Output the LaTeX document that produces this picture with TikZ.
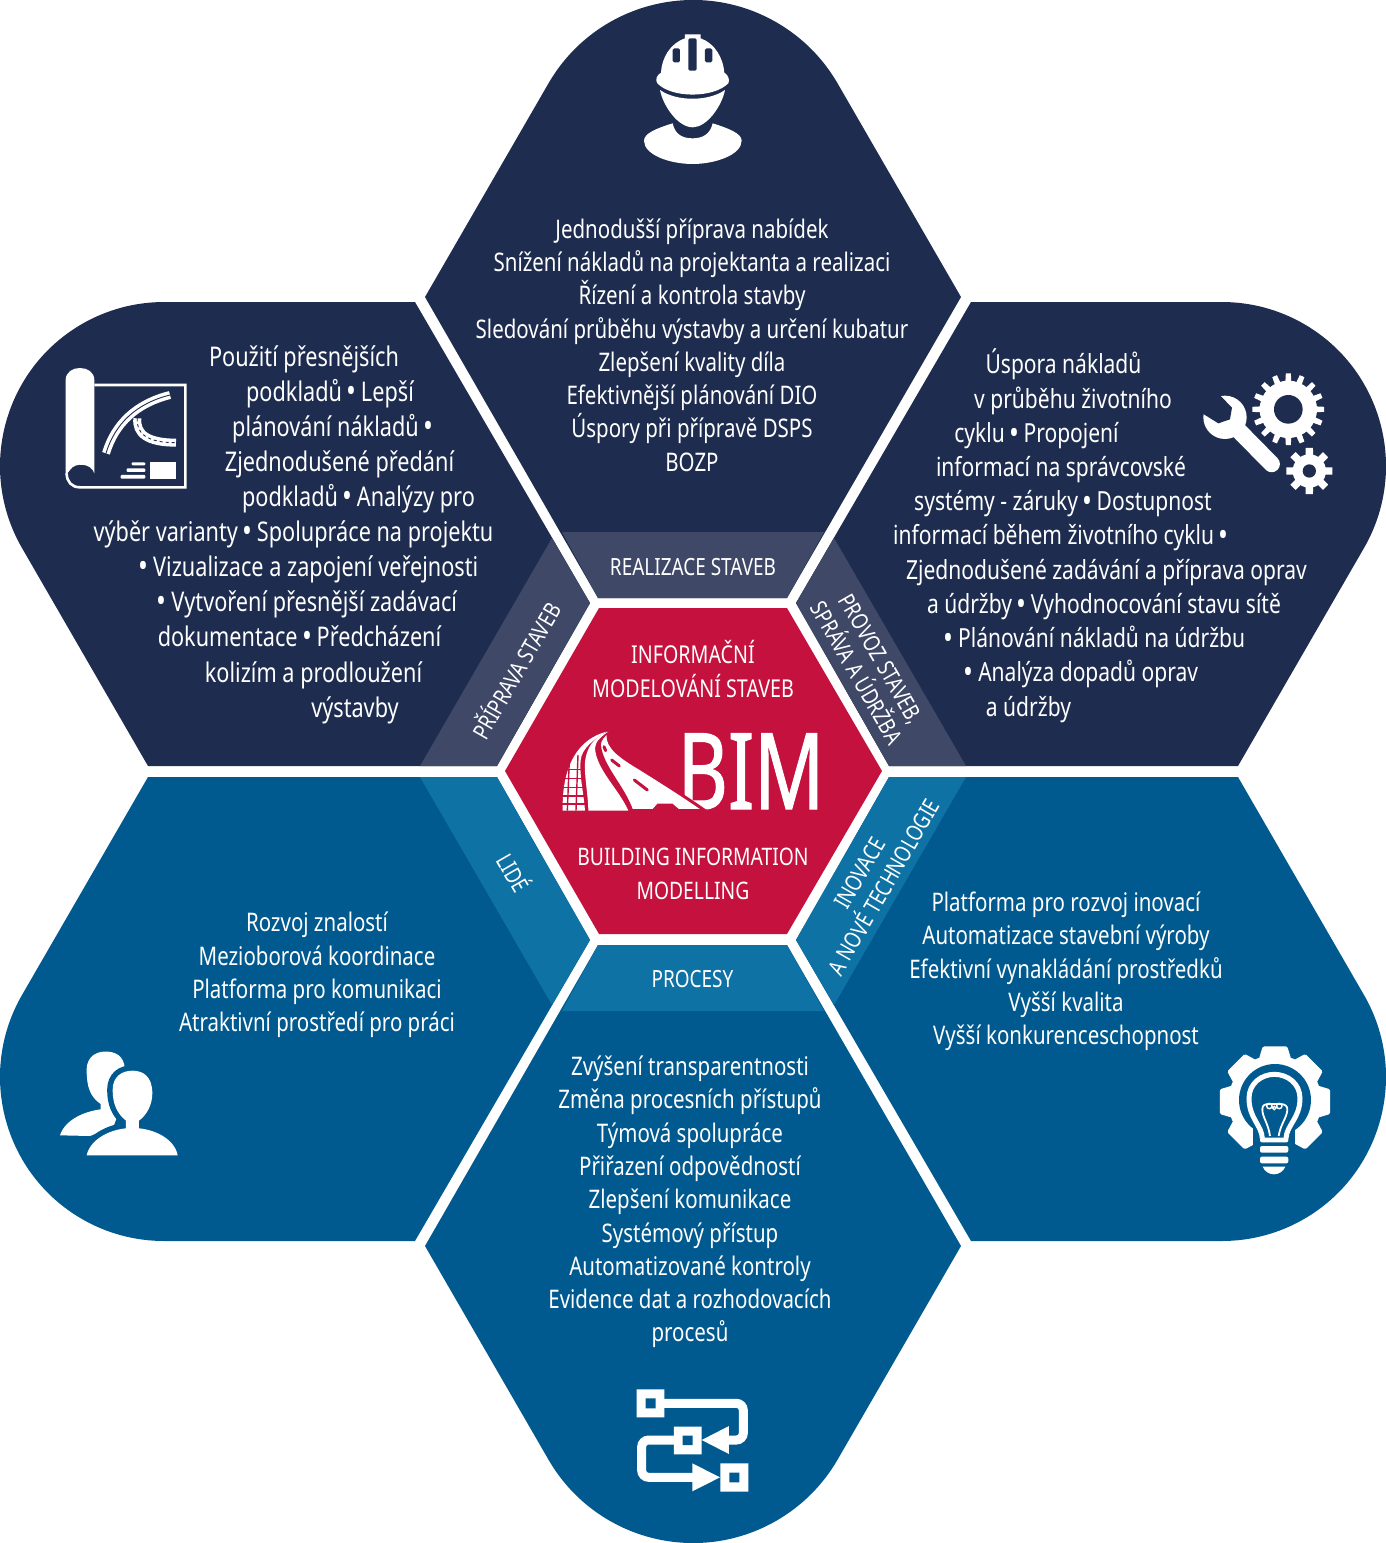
\documentclass[tikz,border=0pt]{standalone}
\usepackage{fontspec}
\setmainfont{Noto Sans}[FakeStretch=0.8]
\newfontfamily\bimfont{Noto Sans}[FakeStretch=0.73,FakeBold=1]
\definecolor{navy}{HTML}{1E2D4F}
\definecolor{navyband}{HTML}{3F4866}
\definecolor{teal}{HTML}{005A8F}
\definecolor{tealband}{HTML}{0E72A5}
\definecolor{crimson}{HTML}{C4113D}
\newcommand{\blt}{\raisebox{-1.6pt}{\fontsize{33}{33}\selectfont •}}
\newcommand{\sep}{\,\blt\,}
\tikzset{
  navyshape/.style={fill=navy},
  tealshape/.style={fill=teal},
  navystrip/.style={fill=navyband},
  tealstrip/.style={fill=tealband},
  txtblock/.style={text=white,inner sep=0pt,align=center,font=\fontsize{25.6}{33.3}\selectfont},
  txtline/.style={text=white,inner sep=0pt,text height=19pt,text depth=6pt},
  leftline/.style={txtline,font=\fontsize{27.1}{34}\selectfont},
  rightline/.style={txtline,font=\fontsize{26.3}{34}\selectfont},
  caption/.style={text=white,inner sep=0pt,align=center,font=\fontsize{23.7}{28}\selectfont},
  tiltcaption/.style={text=white,inner sep=0pt,align=center,font=\fontsize{23}{28}\selectfont},
  gearedge/.style={},
}
\newcommand{\gearteeth}[6]{%
  \fill[white] (#1,#2) circle[radius=#4pt];
  \foreach \g in {1,...,#5}{
    \pgfmathsetmacro{\ga}{360/#5*\g}
    \path[fill=white,gearedge] ({#1+#3*cos(\ga-#6)},{#2+#3*sin(\ga-#6)}) -- ({#1+#3*cos(\ga+#6)},{#2+#3*sin(\ga+#6)}) -- ({#1+(#4-2)*cos(\ga+#6*1.5)},{#2+(#4-2)*sin(\ga+#6*1.5)}) -- ({#1+(#4-2)*cos(\ga-#6*1.5)},{#2+(#4-2)*sin(\ga-#6*1.5)}) -- cycle;
  }}
\begin{document}
\begin{tikzpicture}[x=1pt,y=-1pt]
\useasboundingbox (0,0) rectangle (1386,1543);
% six outer shapes
\path[navyshape] (598,598) -- (425,297) -- (548.4,83.5) arc[start angle=150,end angle=30,radius=167pt] -- (961,297) -- (787,598) -- cycle;
\path[tealshape] (598,945) -- (425,1246) -- (548.4,1459.5) arc[start angle=210,end angle=330,radius=167pt] -- (961,1246) -- (787,945) -- cycle;
\path[navyshape] (415,302) -- (590,603) -- (497,766) -- (148,766) -- (22,548) arc[start angle=210,end angle=90,radius=164pt] -- cycle;
\path[navyshape] (971,302) -- (796,603) -- (889,766) -- (1238,766) -- (1364,548) arc[start angle=-30,end angle=90,radius=164pt] -- cycle;
\path[tealshape] (415,1241) -- (590,940) -- (497,777) -- (148,777) -- (22,995) arc[start angle=150,end angle=270,radius=164pt] -- cycle;
\path[tealshape] (971,1241) -- (796,940) -- (889,777) -- (1238,777) -- (1364,995) arc[start angle=30,end angle=-90,radius=164pt] -- cycle;
% lighter strips
\path[navystrip] (598,598) -- (787,598) -- (824,532) -- (562,532) -- cycle;
\path[navystrip] (590,603) -- (497,766) -- (420,766) -- (552,538) -- cycle;
\path[navystrip] (796,603) -- (889,766) -- (966,766) -- (834,538) -- cycle;
\path[tealstrip] (598,945) -- (787,945) -- (824,1011) -- (562,1011) -- cycle;
\path[tealstrip] (590,940) -- (497,777) -- (420,777) -- (552,1005) -- cycle;
\path[tealstrip] (796,940) -- (889,777) -- (966,777) -- (834,1005) -- cycle;
% centre hexagon
\path[fill=crimson] (505,771) -- (599,608) -- (787,608) -- (882,771) -- (787,934) -- (599,934) -- cycle;

% texts
\node[txtblock] (topblock) at (692,345) {Jednodušší příprava nabídek\\Snížení nákladů na projektanta a realizaci\\Řízení a kontrola stavby\\Sledování průběhu výstavby a určení kubatur\\Zlepšení kvality díla\\Efektivnější plánování DIO\\Úspory při přípravě DSPS\\BOZP};
\node[txtblock] (lowleftblock) at (317,975) {Rozvoj znalostí\\Mezioborová koordinace\\Platforma pro komunikaci\\Atraktivní prostředí pro práci};
\node[txtblock] (lowrightblock) at (1066,971.5) {Platforma pro rozvoj inovací\\Automatizace stavební výroby\\Efektivní vynakládání prostředků\\Vyšší kvalita\\Vyšší konkurenceschopnost};
\node[txtblock] (bottomblock) at (690,1202) {Zvýšení transparentnosti\\Změna procesních přístupů\\Týmová spolupráce\\Přiřazení odpovědností\\Zlepšení komunikace\\Systémový přístup\\Automatizované kontroly\\Evidence dat a rozhodovacích\\procesů};

\node[leftline] (l1) at (304,359.5) {Použití přesnějších};
\node[leftline] (l2) at (330,394.5) {podkladů\sep Lepší};
\node[leftline] (l3) at (335,429.5) {plánování nákladů\sep};
\node[leftline] (l4) at (339.5,464.5) {Zjednodušené předání};
\node[leftline] (l5) at (358.5,499.5) {podkladů\sep Analýzy pro};
\node[leftline] (l6) at (293.5,534.5) {výběr varianty\sep Spolupráce na projektu};
\node[leftline] (l7) at (308.5,569.5) {\blt\,Vizualizace a zapojení veřejnosti};
\node[leftline] (l8) at (307,604.5) {\blt\,Vytvoření přesnější zadávací};
\node[leftline] (l9) at (299.5,639.5) {dokumentace\sep Předcházení};
\node[leftline] (l10) at (313.5,675.5) {kolizím a prodloužení};
\node[leftline] (l11) at (355,710.5) {výstavby};

\node[rightline] (r1) at (1063.5,367) {Úspora nákladů};
\node[rightline] (r2) at (1073,402) {v průběhu životního};
\node[rightline] (r3) at (1036.5,436) {cyklu\sep Propojení};
\node[rightline] (r4) at (1061,470) {informací na správcovské};
\node[rightline] (r5) at (1063,504) {systémy - záruky\sep Dostupnost};
\node[rightline] (r6) at (1063,538) {informací během životního cyklu\sep};
\node[rightline] (r7) at (1106.5,573) {Zjednodušené zadávání a příprava oprav};
\node[rightline] (r8) at (1104,607) {a údržby\sep Vyhodnocování stavu sítě};
\node[rightline] (r9) at (1094.5,641) {\blt\,Plánování nákladů na údržbu};
\node[rightline] (r10) at (1081,675) {\blt\,Analýza dopadů oprav};
\node[rightline] (r11) at (1028.5,710) {a údržby};

% strip captions
\node[caption] (capA) at (693,567.5) {REALIZACE STAVEB};
\node[caption] (capB) at (692.5,979.5) {PROCESY};
\node[tiltcaption,rotate=60] (capC) at (515,670) {PŘÍPRAVA STAVEB};
\node[tiltcaption,rotate=-60] (capD) at (515,872) {LIDÉ};
\node[tiltcaption,rotate=-60] (capE) at (869,666) {PROVOZ STAVEB,\\SPRÁVA A ÚDRŽBA};
\node[tiltcaption,rotate=60] (capF) at (872,880) {INOVACE\\A NOVÉ TECHNOLOGIE};

% centre texts
\node[caption,font=\fontsize{24.6}{34}\selectfont] (capG) at (693,669) {INFORMAČNÍ\\MODELOVÁNÍ STAVEB};
\node[caption,font=\fontsize{24.1}{34}\selectfont] (capH) at (693,874) {BUILDING INFORMATION\\MODELLING};
\node[text=white,inner sep=0pt,anchor=base,font=\bimfont\fontsize{106}{106}\selectfont] (bimword) at (751,809) {BIM};

% road and rail logo
\begin{scope}[shift={(540,710)},scale=0.3333]
  \draw[fill=white,draw=crimson,line width=3pt] (205,65) .. controls (200,100) and (215,125) .. (300,175) .. controls (380,225) and (450,270) .. (495,302) -- (415,302) -- (395,285) -- (355,285) -- (340,302) -- (275,302) .. controls (250,230) and (185,170) .. (178,105) .. controls (178,90) and (190,75) .. (205,65) -- cycle;
  \fill[white] (205,65) .. controls (160,80) and (130,120) .. (135,185) .. controls (138,230) and (145,270) .. (145,302) -- (265,302) .. controls (235,235) and (170,180) .. (165,115) .. controls (165,95) and (185,78) .. (205,65) -- cycle;
  \fill[white] (200,65) .. controls (120,85) and (65,160) .. (68,302) -- (135,302) .. controls (130,240) and (118,200) .. (122,150) .. controls (125,115) and (165,85) .. (200,65) -- cycle;
  \foreach \ty in {178,205,232,258,282} \draw[crimson,line width=1.6pt] (60,\ty) -- (135,\ty);
  \draw[crimson,line width=1.4pt] (88,150) -- (82,302) (114,135) -- (108,302);
  \draw[crimson,line width=3pt,line cap=round] (192,110) -- (197,122) (215,150) -- (238,168) (283,210) -- (322,240);
\end{scope}

% worker icon
\begin{scope}[shift={(600,20)},scale=0.3333]
  \fill[white] (255,43) -- (302,43) -- (302,55) .. controls (345,70) and (370,115) .. (373,158) .. controls (385,165) and (390,180) .. (385,190) .. controls (340,235) and (215,235) .. (172,190) .. controls (165,180) and (170,165) .. (183,158) .. controls (185,115) and (210,70) .. (255,55) -- cycle;
  \fill[navy,rounded corners=1.5pt] (265,55) rectangle (290,152) (218,85) rectangle (240,127) (315,85) rectangle (337,127);
  \fill[white] (180,210) .. controls (230,245) and (325,245) .. (375,210) .. controls (365,260) and (320,322) .. (278,322) .. controls (235,322) and (190,260) .. (180,210) -- cycle;
  \fill[white] (218,310) .. controls (225,345) and (250,355) .. (278,355) .. controls (305,355) and (330,345) .. (338,310) .. controls (385,325) and (425,340) .. (425,362) .. controls (425,405) and (345,432) .. (278,432) .. controls (210,432) and (132,405) .. (132,362) .. controls (132,340) and (170,325) .. (218,310) -- cycle;
\end{scope}

% blueprint icon
\begin{scope}[shift={(0,290)},scale=0.3333]
  \draw[white,line width=2.6pt] (283,285) -- (556,285) -- (556,592) -- (240,592) .. controls (215,592) and (200,575) .. (200,550);
  \fill[white] (197,555) -- (197,270) .. controls (197,222) and (283,222) .. (283,270) -- (283,550) .. controls (275,520) and (225,515) .. (210,540) .. controls (205,548) and (200,552) .. (197,555) -- cycle;
  \draw[white,line width=8pt] (318,490) .. controls (345,400) and (410,340) .. (510,315);
  \draw[navy,line width=0.9pt] (318,490) .. controls (345,400) and (410,340) .. (510,315);
  \draw[white,line width=8pt] (412,385) .. controls (408,430) and (440,458) .. (528,458);
  \draw[navy,line width=0.9pt,dashed] (412,385) .. controls (408,430) and (440,458) .. (528,458);
  \fill[white] (450,517) rectangle (529,566);
  \fill[white,rounded corners=1pt] (395,517) rectangle (436,526) (380,535) rectangle (436,546) (362,555) rectangle (436,566);
\end{scope}

% tools icon
\begin{scope}[shift={(1150,340)},scale=0.3333]
  \gearteeth{415}{208}{108}{86}{16}{4}
  \fill[navy] (415,208) circle[radius=43pt];
  \gearteeth{478}{393}{70}{50}{8}{9}
  \fill[navy] (478,393) circle[radius=20pt];
  \fill[white] (225,232) circle[radius=65pt];
  \draw[white,line width=16.5pt,line cap=round] (240,245) -- (365,372);
  \fill[navy] (212,168) -- (246,203) -- (240,238) -- (205,250) -- (160,222) -- (110,170) -- (170,110) -- cycle;
\end{scope}

% process icon
\begin{scope}[shift={(580,1360)},scale=0.3333]
  \draw[white,line width=9pt,rounded corners=7pt] (250,130) -- (490,130) -- (490,240) -- (420,240);
  \draw[white,line width=9pt,rounded corners=7pt] (290,240) -- (185,240) -- (185,352) -- (340,352);
  \fill[white] (365,240) -- (447,198) -- (447,282) -- cycle;
  \fill[white] (420,352) -- (337,310) -- (337,394) -- cycle;
  \fill[white] (170,88) rectangle (253,172) (282,200) rectangle (365,283) (421,310) rectangle (505,395);
  \fill[teal] (197,115) rectangle (227,145) (308,227) rectangle (338,255) (448,338) rectangle (478,367);
\end{scope}

% bulb icon
\begin{scope}[shift={(1180,1030)},scale=0.3333]
  \tikzset{gearedge/.style={draw=white,line width=4pt,line join=round}}
  \gearteeth{285}{215}{163}{140}{8}{11.5}
  \fill[teal] (285,210) circle[radius=108pt];
  \fill[teal] (218,285) rectangle (345,470);
  \draw[white,line width=5pt] (247,325) .. controls (245,285) and (207,265) .. (207,205) .. controls (207,160) and (245,133) .. (283,133) .. controls (322,133) and (360,160) .. (360,205) .. controls (360,265) and (320,285) .. (318,325);
  \draw[white,line width=1.8pt] (270,318) .. controls (265,280) and (247,262) .. (247,238) .. controls (247,225) and (255,222) .. (268,222) -- (300,222) .. controls (315,222) and (322,228) .. (322,238) .. controls (322,262) and (302,280) .. (296,318);
  \draw[white,line width=1.4pt] (268,228) circle[radius=8pt] (298,228) circle[radius=8pt] (283,234) circle[radius=5pt];
  \fill[white,rounded corners=2pt] (240,323) rectangle (325,337) (240,348) rectangle (325,368) (240,380) rectangle (325,400);
  \fill[white] (248,410) -- (316,410) .. controls (310,425) and (295,433) .. (282,433) .. controls (268,433) and (254,425) .. (248,410) -- cycle;
\end{scope}

% people icon
\begin{scope}[shift={(40,1030)},scale=0.3333]
  \fill[white] (60,316) .. controls (75,270) and (130,245) .. (182,238) -- (182,222) .. controls (150,200) and (140,170) .. (140,120) .. controls (140,75) and (175,62) .. (205,65) .. controls (240,68) and (255,90) .. (255,125) -- (255,200) -- (220,290) -- (150,318) -- cycle;
  \def\frontperson{(140,376) .. controls (150,330) and (205,300) .. (258,295) -- (258,272) .. controls (230,250) and (218,220) .. (218,180) .. controls (218,140) and (245,122) .. (278,122) .. controls (310,122) and (337,140) .. (337,190) .. controls (337,225) and (320,255) .. (297,272) -- (297,295) .. controls (350,300) and (405,330) .. (413,376) -- cycle}
  \draw[teal,line width=11pt] \frontperson;
  \fill[white] \frontperson;
\end{scope}
\end{tikzpicture}
\end{document}
